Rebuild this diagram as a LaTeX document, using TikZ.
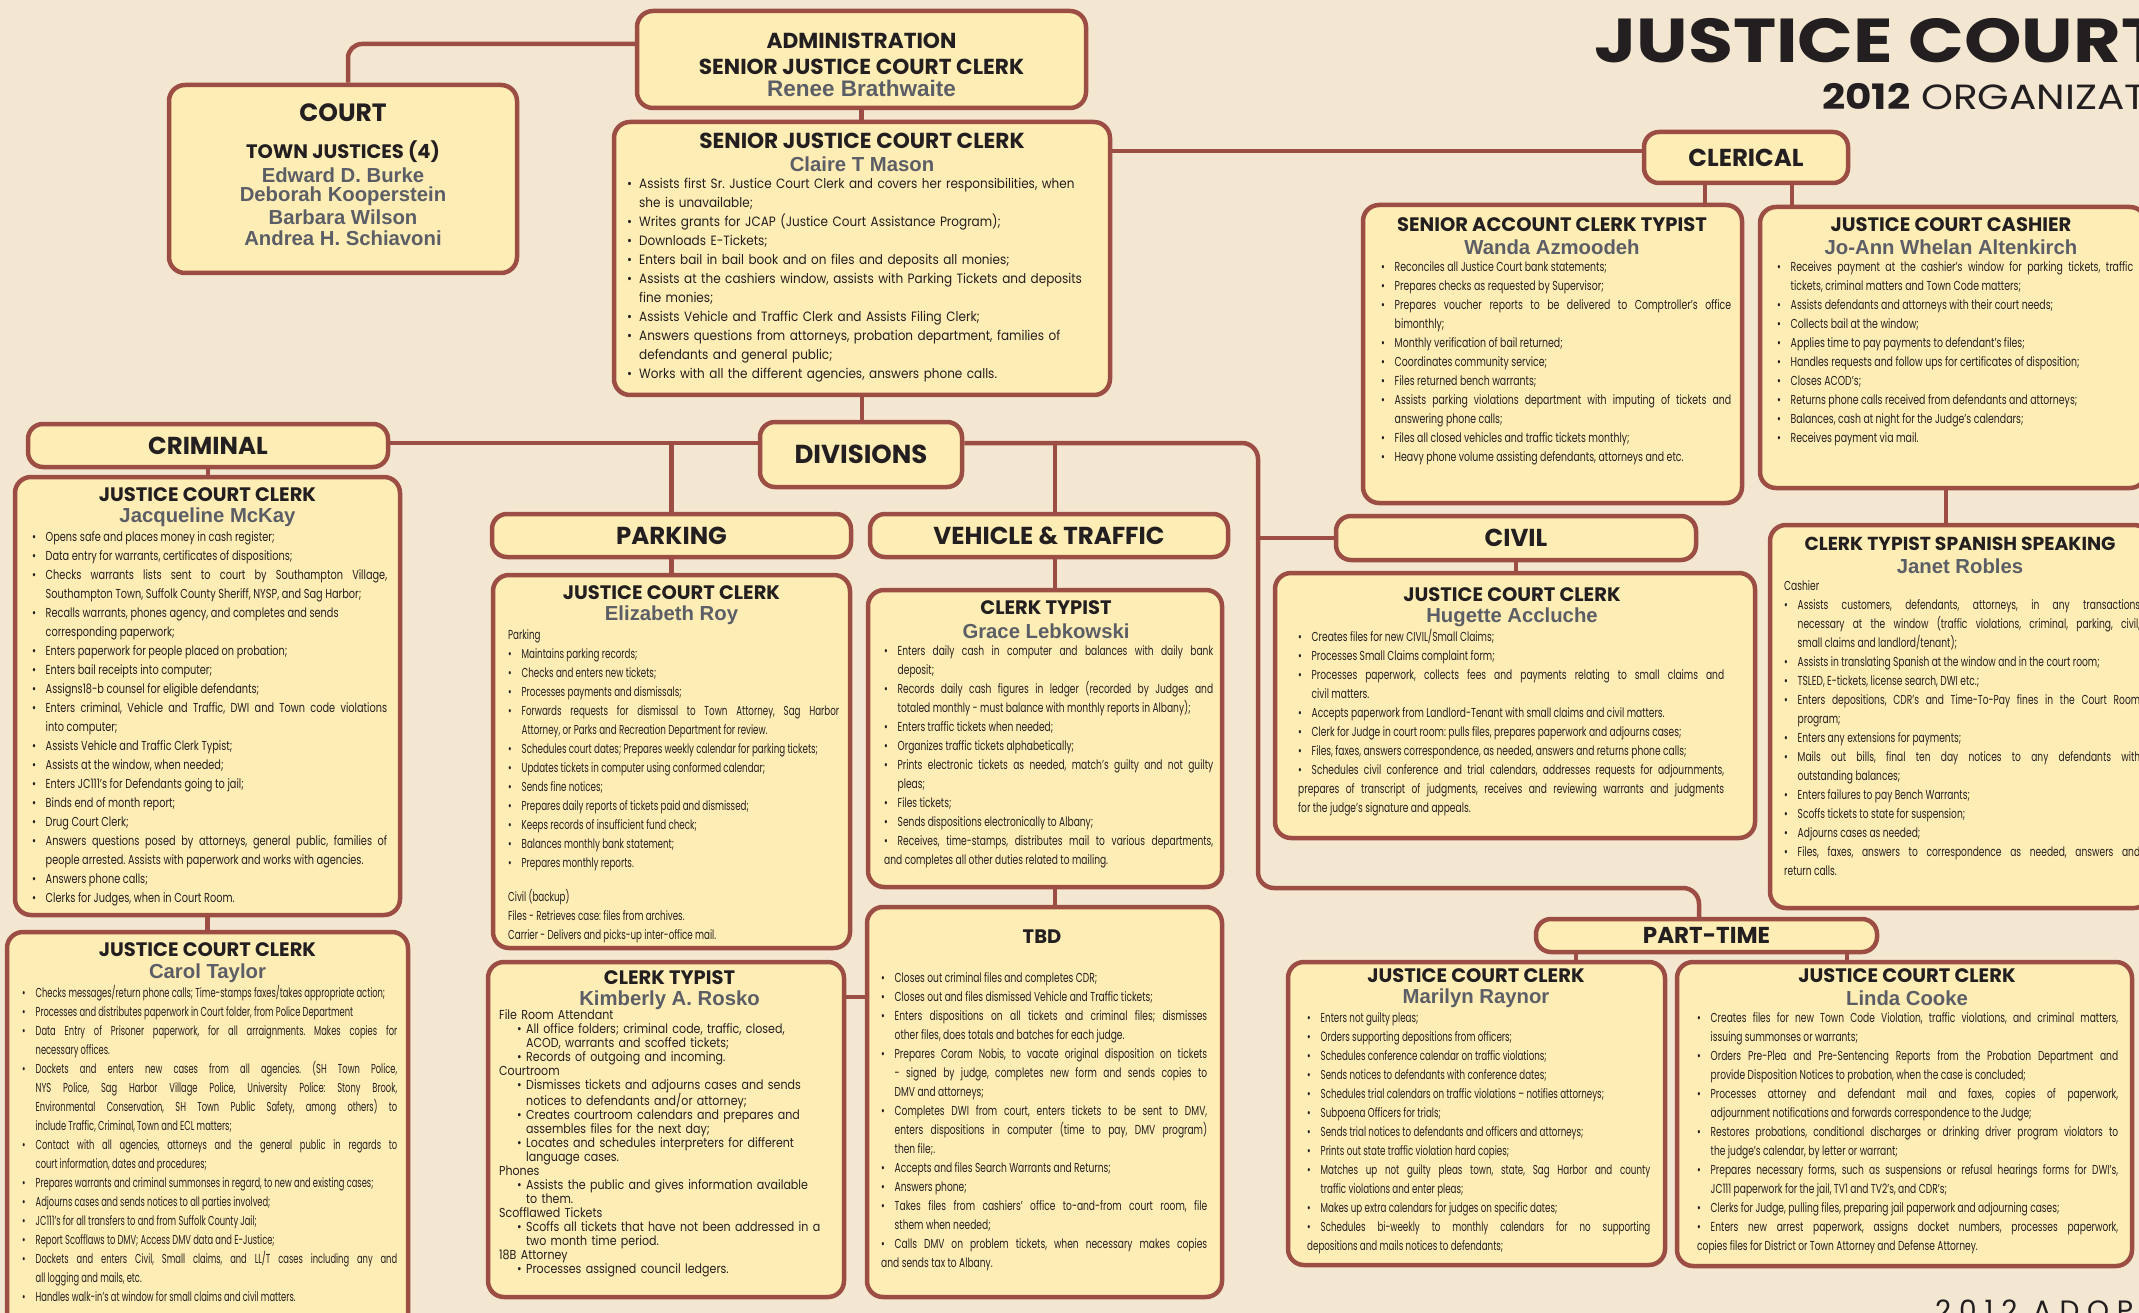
\documentclass[tikz,border=0pt]{standalone}
\usepackage{fontspec}
\setmainfont{Poppins}
\newfontfamily\titlefont[FakeStretch=1.18]{Poppins}
\newfontfamily\yearfont[FakeStretch=1.16]{Poppins}
\newfontfamily\plainfont[FakeStretch=0.89]{Poppins}
\newfontfamily\roomfont[FakeStretch=0.85]{Poppins}
\newfontfamily\dutyA[FakeStretch=0.75]{Poppins}
\newfontfamily\dutyB[FakeStretch=0.72]{Poppins}
\newfontfamily\dutyC[FakeStretch=0.70]{Poppins}
\newfontfamily\dutyD[FakeStretch=0.67]{Poppins}
\newfontfamily\dutyE[FakeStretch=0.64]{Poppins}
\newfontfamily\namefont{Liberation Sans}
\definecolor{paper}{HTML}{F3E7D1}
\definecolor{cardfill}{HTML}{FEEDB4}
\definecolor{edge}{HTML}{9C4E44}
\definecolor{namegray}{HTML}{5B5E66}
\definecolor{ink}{HTML}{231F20}
\newlength\bulind
\setlength\bulind{13.5pt}
% font for a list of duties: family, size, leading
\newcommand\duty[3]{#1\fontsize{#2}{#3}\selectfont\frenchspacing
  \spaceskip=1\fontdimen2\font plus 1.5\fontdimen2\font minus 0.4\fontdimen2\font}
% bullet item, sub-bullet item, group heading
\newcommand\bul{\par\noindent\hangindent=\bulind\hangafter=1\makebox[\bulind][l]{\textbullet}}
\newcommand\sbul{\par\noindent\hangindent=27pt\hangafter=1\hspace*{18pt}\makebox[9pt][l]{\textbullet}}
\newcommand\grp[1]{\par\noindent #1}
\begin{document}
\begin{tikzpicture}[x=1pt, y=-1pt,
    card/.style={draw=edge, line width=4.5pt, fill=cardfill, rounded corners=16pt, inner sep=0pt},
    tab/.style={card, rounded corners=15pt, text=ink, font=\bfseries\fontsize{24.5}{24.5}\selectfont},
    jobtitle/.style={text=ink, inner sep=0pt, font=\bfseries\fontsize{19.5}{19.5}\selectfont},
    person/.style={text=namegray, inner sep=0pt, font=\namefont\bfseries\fontsize{20.3}{20.3}\selectfont},
    duties/.style={anchor=base west, inner sep=0pt, align=justify, text=ink,
      font=\duty\dutyC{13}{19},
      execute at begin node={\tolerance=10000\hbadness=10000\hyphenpenalty=10000}},
    link/.style={draw=edge, line width=4.5pt}]
  \useasboundingbox (0,0) rectangle (2139,1313);
  \clip (0,0) rectangle (2139,1313);
  \fill[paper] (0,0) rectangle (2139,1313);

  % heading
  \node[anchor=base west, inner sep=0pt, text=ink, font=\titlefont\bfseries\fontsize{62}{62}\selectfont] (title) at (1594,63) {JUSTICE COURT};
  \node[anchor=base west, inner sep=0pt, text=ink, font=\yearfont\fontsize{35}{35}\selectfont] (year) at (1822,110) {\textbf{2012} ORGANIZAT};
  \node[anchor=base west, inner sep=0pt, text=ink, font=\fontsize{28}{28}\selectfont] (adopt) at (1935,1320) {\addfontfeature{LetterSpace=28}2012 ADOPT};

  % administration and court
  \node[card, minimum width=449pt, minimum height=97pt] (admin) at (861.5,59.5) {};
  \node[jobtitle, font=\bfseries\fontsize{21.7}{21.7}\selectfont] (admin-a) at (861.5,41) {ADMINISTRATION};
  \node[jobtitle, font=\bfseries\fontsize{21.7}{21.7}\selectfont] (admin-t) at (861.5,67) {SENIOR JUSTICE COURT CLERK};
  \node[person, font=\namefont\bfseries\fontsize{22.5}{22.5}\selectfont] (admin-n) at (861.5,88) {Renee Brathwaite};

  \node[card, minimum width=348pt, minimum height=188pt] (court) at (343,179) {};
  \node[jobtitle, font=\bfseries\fontsize{25}{25}\selectfont] (court-a) at (343,113) {COURT};
  \node[jobtitle] (court-t) at (343,152) {TOWN JUSTICES (4)};
  \node[person] (court-n1) at (343,175) {Edward D. Burke};
  \node[person] (court-n2) at (343,196) {Deborah Kooperstein};
  \node[person] (court-n3) at (343,217) {Barbara Wilson};
  \node[person] (court-n4) at (343,238) {Andrea H. Schiavoni};

  \node[card, minimum width=496pt, minimum height=273pt] (sjcc) at (862,258.5) {};
  \node[jobtitle, font=\bfseries\fontsize{21.7}{21.7}\selectfont] (sjcc-t) at (862,141) {SENIOR JUSTICE COURT CLERK};
  \node[person] (sjcc-n) at (862,164) {Claire T Mason};
  \node[duties, align=left, text width=472pt, font=\duty\plainfont{13.5}{19}] (sjcc-d) at (627,170) {%
    \setlength\bulind{12pt}%
    \bul Assists first Sr. Justice Court Clerk and covers her responsibilities, when\newline she is unavailable;
    \bul Writes grants for JCAP (Justice Court Assistance Program);
    \bul Downloads E-Tickets;
    \bul Enters bail in bail book and on files and deposits all monies;
    \bul Assists at the cashiers window, assists with Parking Tickets and deposits\newline fine monies;
    \bul Assists Vehicle and Traffic Clerk and Assists Filing Clerk;
    \bul Answers questions from attorneys, probation department, families of\newline defendants and general public;
    \bul Works with all the different agencies, answers phone calls.};

  % clerical
  \node[tab, minimum width=204pt, minimum height=51pt] (clerical) at (1746,157.5) {CLERICAL};

  \node[card, minimum width=379pt, minimum height=298pt] (acct) at (1552.5,354) {};
  \node[jobtitle] (acct-t) at (1552,225) {SENIOR ACCOUNT CLERK TYPIST};
  \node[person] (acct-n) at (1552,247) {Wanda Azmoodeh};
  \node[duties, text width=350pt, font=\duty\dutyB{13}{19}] (acct-d) at (1381,252.5) {%
    \bul Reconciles all Justice Court bank statements;
    \bul Prepares checks as requested by Supervisor;
    \bul Prepares voucher reports to be delivered to Comptroller’s office\linebreak bimonthly;
    \bul Monthly verification of bail returned;
    \bul Coordinates community service;
    \bul Files returned bench warrants;
    \bul Assists parking violations department with imputing of tickets and\linebreak answering phone calls;
    \bul Files all closed vehicles and traffic tickets monthly;
    \bul Heavy phone volume assisting defendants, attorneys and etc.};

  \node[card, minimum width=386pt, minimum height=281pt] (cashier) at (1953,347.5) {};
  \node[jobtitle] (cashier-t) at (1951,225) {JUSTICE COURT CASHIER};
  \node[person] (cashier-n) at (1951,247) {Jo-Ann Whelan Altenkirch};
  \node[duties, text width=356pt, font=\duty\dutyB{13}{19}] (cashier-d) at (1777,252.5) {%
    \bul Receives payment at the cashier’s window for parking tickets, traffic\linebreak tickets, criminal matters and Town Code matters;
    \bul Assists defendants and attorneys with their court needs;
    \bul Collects bail at the window;
    \bul Applies time to pay payments to defendant’s files;
    \bul Handles requests and follow ups for certificates of disposition;
    \bul Closes ACOD’s;
    \bul Returns phone calls received from defendants and attorneys;
    \bul Balances, cash at night for the Judge’s calendars;
    \bul Receives payment via mail.};

  \node[card, minimum width=380pt, minimum height=383pt] (spanish) at (1960,716.5) {};
  \node[jobtitle, font=\bfseries\fontsize{18.8}{18.8}\selectfont] (spanish-t) at (1960,544) {CLERK TYPIST SPANISH SPEAKING};
  \node[person] (spanish-n) at (1960,566) {Janet Robles};
  \node[duties, text width=356pt] (spanish-d) at (1784,571.5) {%
    \grp{Cashier}
    \bul Assists customers, defendants, attorneys, in any transactions\linebreak necessary at the window (traffic violations, criminal, parking, civil,\linebreak small claims and landlord/tenant);
    \bul Assists in translating Spanish at the window and in the court room;
    \bul TSLED, E-tickets, license search, DWI etc.;
    \bul Enters depositions, CDR’s and Time-To-Pay fines in the Court Room\linebreak program;
    \bul Enters any extensions for payments;
    \bul Mails out bills, final ten day notices to any defendants with\linebreak outstanding balances;
    \bul Enters failures to pay Bench Warrants;
    \bul Scoffs tickets to state for suspension;
    \bul Adjourns cases as needed;
    \bul Files, faxes, answers to correspondence as needed, answers and\linebreak return calls.};

  % divisions
  \node[tab, minimum width=202pt, minimum height=65pt, font=\bfseries\fontsize{26}{26}\selectfont] (divisions) at (861,454.5) {DIVISIONS};

  \node[tab, minimum width=360pt, minimum height=43pt] (criminal) at (208,445.5) {CRIMINAL};
  \node[card, minimum width=385pt, minimum height=438pt] (mckay) at (207.5,696) {};
  \node[jobtitle] (mckay-t) at (207.5,495) {JUSTICE COURT CLERK};
  \node[person] (mckay-n) at (207.5,517) {Jacqueline McKay};
  \node[duties, text width=355pt, font=\duty\dutyA{13}{19}] (mckay-d) at (32,522.5) {%
    \bul Opens safe and places money in cash register;
    \bul Data entry for warrants, certificates of dispositions;
    \bul Checks warrants lists sent to court by Southampton Village,\linebreak Southampton Town, Suffolk County Sheriff, NYSP, and Sag Harbor;
    \bul Recalls warrants, phones agency, and completes and sends\newline corresponding paperwork;
    \bul Enters paperwork for people placed on probation;
    \bul Enters bail receipts into computer;
    \bul Assigns18-b counsel for eligible defendants;
    \bul Enters criminal, Vehicle and Traffic, DWI and Town code violations\linebreak into computer;
    \bul Assists Vehicle and Traffic Clerk Typist;
    \bul Assists at the window, when needed;
    \bul Enters JC111’s for Defendants going to jail;
    \bul Binds end of month report;
    \bul Drug Court Clerk;
    \bul Answers questions posed by attorneys, general public, families of\linebreak people arrested. Assists with paperwork and works with agencies.
    \bul Answers phone calls;
    \bul Clerks for Judges, when in Court Room.};

  \node[card, minimum width=401pt, minimum height=398pt] (carol) at (207.5,1131) {};
  \node[jobtitle] (carol-t) at (207.5,950) {JUSTICE COURT CLERK};
  \node[person] (carol-n) at (207.5,973) {Carol Taylor};
  \node[duties, text width=375pt, font=\duty\dutyE{13}{19}] (carol-d) at (22,978.5) {%
    \bul Checks messages/return phone calls; Time-stamps faxes/takes appropriate action;
    \bul Processes and distributes paperwork in Court folder, from Police Department
    \bul Data Entry of Prisoner paperwork, for all arraignments. Makes copies for\linebreak necessary offices.
    \bul Dockets and enters new cases from all agencies. (SH Town Police,\linebreak NYS Police, Sag Harbor Village Police, University Police: Stony Brook,\linebreak Environmental Conservation, SH Town Public Safety, among others) to\linebreak include Traffic, Criminal, Town and ECL matters;
    \bul Contact with all agencies, attorneys and the general public in regards to\linebreak court information, dates and procedures;
    \bul Prepares warrants and criminal summonses in regard, to new and existing cases;
    \bul Adjourns cases and sends notices to all parties involved;
    \bul JC111’s for all transfers to and from Suffolk County Jail;
    \bul Report Scofflaws to DMV; Access DMV data and E-Justice;
    \bul Dockets and enters Civil, Small claims, and LL/T cases including any and\linebreak all logging and mails, etc.
    \bul Handles walk-in’s at window for small claims and civil matters.};

  \node[tab, minimum width=359pt, minimum height=43pt] (parking) at (671.5,535.5) {PARKING};
  \node[card, minimum width=357pt, minimum height=373pt] (roy) at (671.5,761.5) {};
  \node[jobtitle] (roy-t) at (671.5,593) {JUSTICE COURT CLERK};
  \node[person] (roy-n) at (671.5,615) {Elizabeth Roy};
  \node[duties, text width=331pt, font=\duty\dutyD{13}{19}] (roy-d) at (508,620.5) {%
    \grp{Parking}
    \bul Maintains parking records;
    \bul Checks and enters new tickets;
    \bul Processes payments and dismissals;
    \bul Forwards requests for dismissal to Town Attorney, Sag Harbor\linebreak Attorney, or Parks and Recreation Department for review.
    \bul Schedules court dates; Prepares weekly calendar for parking tickets;
    \bul Updates tickets in computer using conformed calendar;
    \bul Sends fine notices;
    \bul Prepares daily reports of tickets paid and dismissed;
    \bul Keeps records of insufficient fund check;
    \bul Balances monthly bank statement;
    \bul Prepares monthly reports.
    \par\vspace{15pt}
    \grp{Civil (backup)}
    \grp{Files - Retrieves case: files from archives.}
    \grp{Carrier - Delivers and picks-up inter-office mail.}};

  \node[card, minimum width=356pt, minimum height=335pt] (kimberly) at (666,1129.5) {};
  \node[jobtitle] (kimberly-t) at (669.5,978) {CLERK TYPIST};
  \node[person] (kimberly-n) at (669.5,1000) {Kimberly A. Rosko};
  \node[duties, align=left, text width=335pt, font=\duty\roomfont{13}{14}] (kimberly-d) at (499,1005) {%
    \grp{File Room Attendant}
    \sbul All office folders; criminal code, traffic, closed,\newline ACOD, warrants and scoffed tickets;
    \sbul Records of outgoing and incoming.
    \grp{Courtroom}
    \sbul Dismisses tickets and adjourns cases and sends\newline notices to defendants and/or attorney;
    \sbul Creates courtroom calendars and prepares and\newline assembles files for the next day;
    \sbul Locates and schedules interpreters for different\newline language cases.
    \grp{Phones}
    \sbul Assists the public and gives information available\newline to them.
    \grp{Scofflawed Tickets}
    \sbul Scoffs all tickets that have not been addressed in a\newline two month time period.
    \grp{18B Attorney}
    \sbul Processes assigned council ledgers.};

  \node[tab, minimum width=358pt, minimum height=43pt] (vehicle) at (1049,535.5) {VEHICLE \& TRAFFIC};
  \node[card, minimum width=354pt, minimum height=297pt] (grace) at (1045,738.5) {};
  \node[jobtitle] (grace-t) at (1046,608) {CLERK TYPIST};
  \node[person] (grace-n) at (1046,631) {Grace Lebkowski};
  \node[duties, text width=329pt] (grace-d) at (884,636.5) {%
    \bul Enters daily cash in computer and balances with daily bank\linebreak deposit;
    \bul Records daily cash figures in ledger (recorded by Judges and\linebreak totaled monthly - must balance with monthly reports in Albany);
    \bul Enters traffic tickets when needed;
    \bul Organizes traffic tickets alphabetically;
    \bul Prints electronic tickets as needed, match’s guilty and not guilty\linebreak pleas;
    \bul Files tickets;
    \bul Sends dispositions electronically to Albany;
    \bul Receives, time-stamps, distributes mail to various departments,\linebreak and completes all other duties related to mailing.};

  \node[card, minimum width=355pt, minimum height=390pt] (tbd) at (1044.5,1102) {};
  \node[jobtitle] (tbd-t) at (1042,937) {TBD};
  \node[duties, text width=326pt] (tbd-d) at (881,963.5) {%
    \bul Closes out criminal files and completes CDR;
    \bul Closes out and files dismissed Vehicle and Traffic tickets;
    \bul Enters dispositions on all tickets and criminal files; dismisses\linebreak other files, does totals and batches for each judge.
    \bul Prepares Coram Nobis, to vacate original disposition on tickets\linebreak - signed by judge, completes new form and sends copies to\linebreak DMV and attorneys;
    \bul Completes DWI from court, enters tickets to be sent to DMV,\linebreak enters dispositions in computer (time to pay, DMV program)\linebreak then file;.
    \bul Accepts and files Search Warrants and Returns;
    \bul Answers phone;
    \bul Takes files from cashiers’ office to-and-from court room, file\linebreak sthem when needed;
    \bul Calls DMV on problem tickets, when necessary makes copies\linebreak and sends tax to Albany.};

  \node[tab, minimum width=360pt, minimum height=44pt] (civil) at (1516,538) {CIVIL};
  \node[card, minimum width=480pt, minimum height=265pt] (hugette) at (1515,705.5) {};
  \node[jobtitle] (hugette-t) at (1512,595) {JUSTICE COURT CLERK};
  \node[person] (hugette-n) at (1512,617) {Hugette Accluche};
  \node[duties, text width=426pt] (hugette-d) at (1298,622.5) {%
    \bul Creates files for new CIVIL/Small Claims;
    \bul Processes Small Claims complaint form;
    \bul Processes paperwork, collects fees and payments relating to small claims and\linebreak civil matters.
    \bul Accepts paperwork from Landlord-Tenant with small claims and civil matters.
    \bul Clerk for Judge in court room: pulls files, prepares paperwork and adjourns cases;
    \bul Files, faxes, answers correspondence, as needed, answers and returns phone calls;
    \bul Schedules civil conference and trial calendars, addresses requests for adjournments,\linebreak prepares of transcript of judgments, receives and reviewing warrants and judgments\linebreak for the judge’s signature and appeals.};

  % part-time
  \node[tab, minimum width=341pt, minimum height=33pt, font=\bfseries\fontsize{23}{23}\selectfont] (parttime) at (1706.5,935.5) {PART-TIME};
  \node[card, minimum width=377pt, minimum height=303pt] (marilyn) at (1476.5,1113.5) {};
  \node[jobtitle] (marilyn-t) at (1476,976) {JUSTICE COURT CLERK};
  \node[person] (marilyn-n) at (1476,998) {Marilyn Raynor};
  \node[duties, text width=343pt, font=\duty\dutyD{13}{19}] (marilyn-d) at (1307,1003.5) {%
    \bul Enters not guilty pleas;
    \bul Orders supporting depositions from officers;
    \bul Schedules conference calendar on traffic violations;
    \bul Sends notices to defendants with conference dates;
    \bul Schedules trial calendars on traffic violations – notifies attorneys;
    \bul Subpoena Officers for trials;
    \bul Sends trial notices to defendants and officers and attorneys;
    \bul Prints out state traffic violation hard copies;
    \bul Matches up not guilty pleas town, state, Sag Harbor and county\linebreak traffic violations and enter pleas;
    \bul Makes up extra calendars for judges on specific dates;
    \bul Schedules bi-weekly to monthly calendars for no supporting\linebreak depositions and mails notices to defendants;};

  \node[card, minimum width=455pt, minimum height=304pt] (linda) at (1904.5,1114) {};
  \node[jobtitle] (linda-t) at (1907,976) {JUSTICE COURT CLERK};
  \node[person] (linda-n) at (1907,998) {Linda Cooke};
  \node[duties, text width=421pt] (linda-d) at (1697,1003.5) {%
    \bul Creates files for new Town Code Violation, traffic violations, and criminal matters,\linebreak issuing summonses or warrants;
    \bul Orders Pre-Plea and Pre-Sentencing Reports from the Probation Department and\linebreak provide Disposition Notices to probation, when the case is concluded;
    \bul Processes attorney and defendant mail and faxes, copies of paperwork,\linebreak adjournment notifications and forwards correspondence to the Judge;
    \bul Restores probations, conditional discharges or drinking driver program violators to\linebreak the judge’s calendar, by letter or warrant;
    \bul Prepares necessary forms, such as suspensions or refusal hearings forms for DWI’s,\linebreak JC111 paperwork for the jail, TV1 and TV2’s, and CDR’s;
    \bul Clerks for Judge, pulling files, preparing jail paperwork and adjourning cases;
    \bul Enters new arrest paperwork, assigns docket numbers, processes paperwork,\linebreak copies files for District or Town Attorney and Defense Attorney.};

  % connectors
  \coordinate (bus) at (861,443);
  \coordinate (trunk) at (1258,443);
  \coordinate (ptbend) at (1258,888);
  \coordinate (ctout) at ([xshift=5pt]court.north);
  \coordinate (adin) at ([yshift=15.5pt]admin.west);
  \coordinate (clin) at ([yshift=6.5pt]clerical.west);
  \coordinate (clA) at ([xshift=-41pt]clerical.south);
  \coordinate (clB) at ([xshift=46pt]clerical.south);
  \coordinate (csout) at ([xshift=-7pt]cashier.south);
  \coordinate (vtx) at ([xshift=6pt]vehicle.north);
  \coordinate (ptin) at ([xshift=-7.5pt]parttime.north);
  \coordinate (ptA) at ([xshift=-130.5pt]parttime.south);
  \coordinate (ptB) at ([xshift=140.5pt]parttime.south);
  \coordinate (kt) at ([yshift=-37pt]kimberly.north east);

  \draw[link, rounded corners=14pt] (ctout) |- (adin);
  \draw[link] (admin.south) -- (admin.south |- sjcc.north);
  \draw[link] (clin -| sjcc.east) -- (clin);
  \draw[link] (clA) -- (clA |- acct.north);
  \draw[link] (clB) -- (clB |- cashier.north);
  \draw[link] (csout) -- (csout |- spanish.north);
  \draw[link] (sjcc.south) -- (sjcc.south |- divisions.north);
  \draw[link] (bus -| criminal.east) -- (bus -| divisions.west);
  \draw[link, rounded corners=16pt] (bus -| divisions.east) -- (trunk) -- (ptbend) -- (ptbend -| ptin) -- (ptin);
  \draw[link] (civil.west -| trunk) -- (civil.west);
  \draw[link] (bus -| parking.north) -- (parking.north);
  \draw[link] (bus -| vtx) -- (vtx);
  \draw[link] (criminal.south) -- (criminal.south |- mckay.north);
  \draw[link] (mckay.south) -- (mckay.south |- carol.north);
  \draw[link] (parking.south) -- (parking.south |- roy.north);
  \draw[link] (vtx |- vehicle.south) -- (vtx |- grace.north);
  \draw[link] (vtx |- grace.south) -- (vtx |- tbd.north);
  \draw[link] (kt) -- (kt -| tbd.west);
  \draw[link] (civil.south) -- (civil.south |- hugette.north);
  \draw[link] (ptA) -- (ptA |- marilyn.north);
  \draw[link] (ptB) -- (ptB |- linda.north);
\end{tikzpicture}
\end{document}
